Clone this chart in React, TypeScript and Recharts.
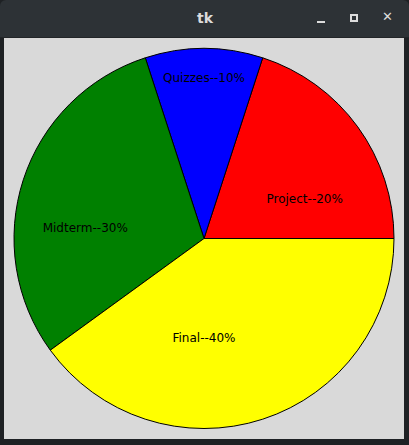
import { Cell, Pie, PieChart } from "recharts";

const categories = ["Project", "Quizzes", "Midterm", "Final"];
const weights = [20, 10, 30, 40];
const colors = ["#ff0000", "#0000ff", "#008000", "#ffff00"];
// where each caption sits, as a fraction of the radius from the centre
const labelSpot = [
  { x: 0.53, y: -0.21 },
  { x: 0.0, y: -0.845 },
  { x: -0.625, y: -0.055 },
  { x: 0.0, y: 0.525 },
];

const data = categories.map((name, i) => ({ name, value: weights[i] }));

function renderLabel(props: any) {
  const { cx, cy, outerRadius, index } = props;
  const spot = labelSpot[index];
  return (
    <text
      x={cx + spot.x * outerRadius}
      y={cy + spot.y * outerRadius}
      textAnchor="middle"
      dominantBaseline="central"
      fill="#000"
      fontSize={12}
      fontFamily="DejaVu Sans"
    >
      {`${categories[index]}--${weights[index]}%`}
    </text>
  );
}

export default function App() {
  return (
    <div style={{ position: "absolute", left: 0, top: 0, width: 409, height: 445, background: "#1e2124", overflow: "hidden" }}>
      <div
        style={{
          position: "absolute",
          left: 0,
          top: 0,
          width: 409,
          height: 37,
          background: "#2d3236",
          borderTopLeftRadius: 6,
          borderTopRightRadius: 6,
          borderBottom: "1px solid #222528",
          color: "#dcdcdc",
          fontFamily: "DejaVu Sans",
          fontSize: 14,
          fontWeight: "bold",
        }}
      >
        <span style={{ position: "absolute", left: 197, top: 10 }}>tk</span>
        <span style={{ position: "absolute", left: 317, top: 21, width: 8, height: 2, background: "#dcdcdc" }} />
        <span style={{ position: "absolute", left: 350, top: 14, width: 4, height: 4, border: "2px solid #dcdcdc" }} />
        <span style={{ position: "absolute", left: 382, top: 9, fontSize: 13 }}>✕</span>
      </div>
      <div style={{ position: "absolute", left: 4, top: 38, width: 400, height: 401, background: "#d9d9d9" }}>
        <PieChart width={400} height={401} margin={{ top: 0, right: 0, bottom: 0, left: 0 }}>
          <Pie
            data={data}
            dataKey="value"
            nameKey="name"
            cx={200}
            cy={200.5}
            innerRadius={0}
            outerRadius={190}
            startAngle={0}
            endAngle={360}
            stroke="#000"
            strokeWidth={1}
            label={renderLabel}
            labelLine={false}
            isAnimationActive={false}
          >
            {data.map((d, i) => (
              <Cell key={d.name} fill={colors[i]} />
            ))}
          </Pie>
        </PieChart>
      </div>
    </div>
  );
}
